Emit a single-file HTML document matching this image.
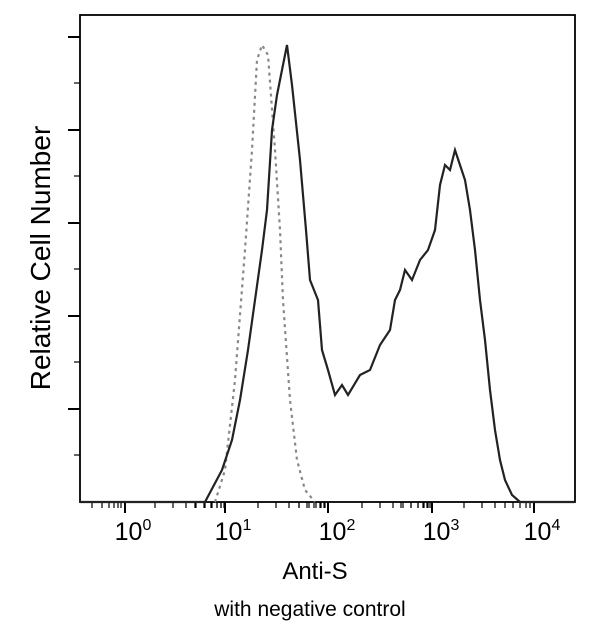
<!DOCTYPE html>
<html><head><style>
body{margin:0;background:#fff;}
svg{display:block;font-family:"Liberation Sans",sans-serif;}
</style></head><body>
<svg width="600" height="627" viewBox="0 0 600 627">
<rect x="80" y="15" width="495" height="487" fill="none" stroke="#000" stroke-width="1.8"/>
<g stroke="#000" stroke-width="2">
<line x1="125" y1="502" x2="125" y2="513"/><line x1="225" y1="502" x2="225" y2="513"/>
<line x1="328" y1="502" x2="328" y2="513"/><line x1="432" y1="502" x2="432" y2="513"/>
<line x1="534" y1="502" x2="534" y2="513"/>
<line x1="68" y1="37" x2="80" y2="37"/><line x1="68" y1="130" x2="80" y2="130"/>
<line x1="68" y1="223" x2="80" y2="223"/><line x1="68" y1="316" x2="80" y2="316"/>
<line x1="68" y1="409" x2="80" y2="409"/>
</g>
<g stroke="#000" stroke-width="1.2">
<line x1="74" y1="83" x2="80" y2="83"/><line x1="74" y1="176" x2="80" y2="176"/>
<line x1="74" y1="269" x2="80" y2="269"/><line x1="74" y1="362" x2="80" y2="362"/>
<line x1="74" y1="455" x2="80" y2="455"/>
<g id="mt">
<line x1="92" y1="502" x2="92" y2="508"/><line x1="102" y1="502" x2="102" y2="508"/><line x1="109" y1="502" x2="109" y2="508"/><line x1="114" y1="502" x2="114" y2="508"/><line x1="118" y1="502" x2="118" y2="508"/><line x1="121" y1="502" x2="121" y2="508"/>
<line x1="155" y1="502" x2="155" y2="508"/><line x1="173" y1="502" x2="173" y2="508"/><line x1="186" y1="502" x2="186" y2="508"/><line x1="196" y1="502" x2="196" y2="508"/><line x1="204" y1="502" x2="204" y2="508"/><line x1="211" y1="502" x2="211" y2="508"/><line x1="217" y1="502" x2="217" y2="508"/><line x1="221" y1="502" x2="221" y2="508"/>
</g>
<use href="#mt" x="103"/><use href="#mt" x="207"/><use href="#mt" x="309"/>
</g>
<polyline fill="none" stroke="#888" stroke-width="2.2" stroke-dasharray="3,4"
points="215,502 225,470 235,380 245,250 252,150 257,60 262,45 268,55 275,150 280,230 283,300 290,400 297,460 305,490 315,502"/>
<polyline fill="none" stroke="#222" stroke-width="2.2"
points="80,502 205,502 222,470 232,440 240,400 248,350 255,300 262,250 267,210 272,130 277,95 281,75 287,45 292,85 300,160 306,230 310,280 318,300 322,350 328,370 335,395 342,385 348,395 360,375 370,370 380,345 390,330 395,300 400,290 405,270 412,280 420,260 428,250 435,230 440,185 445,165 450,170 455,150 460,165 465,180 470,210 475,250 480,300 485,340 490,390 495,430 500,460 505,480 512,495 520,502 575,502"/>
<g font-size="25" text-anchor="middle">
<text x="133" y="540">10<tspan dy="-10" font-size="16">0</tspan></text>
<text x="233" y="540">10<tspan dy="-10" font-size="16">1</tspan></text>
<text x="337" y="540">10<tspan dy="-10" font-size="16">2</tspan></text>
<text x="441" y="540">10<tspan dy="-10" font-size="16">3</tspan></text>
<text x="542" y="540">10<tspan dy="-10" font-size="16">4</tspan></text>
</g>
<text x="315" y="579" font-size="24" text-anchor="middle">Anti-S</text>
<text x="310" y="616" font-size="21" text-anchor="middle">with negative control</text>
<text transform="translate(50,258) rotate(-90)" font-size="28" text-anchor="middle">Relative Cell Number</text>
</svg>
</body></html>
